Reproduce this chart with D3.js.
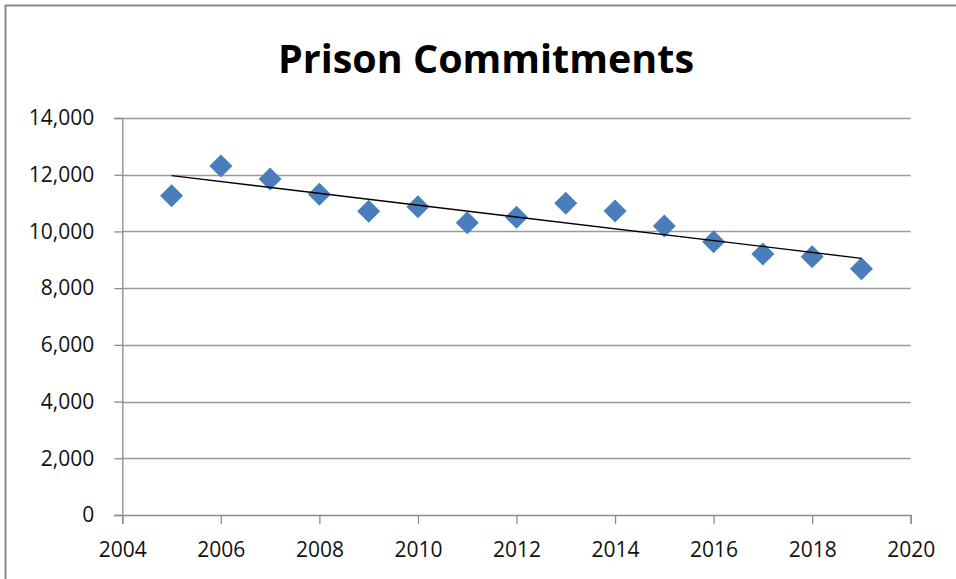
<!DOCTYPE html>
<html>
<head>
<meta charset="utf-8">
<script src="https://cdn.jsdelivr.net/npm/d3@7/dist/d3.min.js"></script>
<style>
  html, body { margin: 0; padding: 0; background: #fff; }
  svg { display: block; }
</style>
</head>
<body>
<svg id="chart" width="956" height="579"></svg>
<script>
// Annual prison commitments
const years = [2005, 2006, 2007, 2008, 2009, 2010, 2011, 2012, 2013, 2014, 2015, 2016, 2017, 2018, 2019];
const commitments = [11260, 12310, 11850, 11310, 10710, 10870, 10310, 10500, 10990, 10720, 10190, 9640, 9200, 9110, 8680];
const xTicks = [2004, 2006, 2008, 2010, 2012, 2014, 2016, 2018, 2020];
const yTicks = [0, 2000, 4000, 6000, 8000, 10000, 12000, 14000];
const title = "Prison Commitments";

const svg = d3.select("#chart");
const W = 956, H = 579;

const x = d3.scaleLinear().domain([2004, 2020]).range([122.3, 910.7]);
const y = d3.scaleLinear().domain([0, 14000]).range([515, 118]);

const axisColor = "#8c8c8c";
const labelFont = "'Open Sans', 'Noto Sans', sans-serif";

// chart frame (top and left edges)
svg.append("path")
  .attr("d", `M5.5,${H} V5.5 H${W}`)
  .attr("fill", "none")
  .attr("stroke", "#8a8a8a")
  .attr("stroke-width", 2);

// title
svg.append("text")
  .attr("x", 486).attr("y", 73)
  .attr("text-anchor", "middle")
  .attr("font-family", labelFont)
  .attr("font-weight", 700)
  .attr("font-size", 40)
  .attr("textLength", 416)
  .attr("lengthAdjust", "spacingAndGlyphs")
  .attr("fill", "#000")
  .text(title);

// horizontal gridlines
svg.append("g")
  .selectAll("line")
  .data(yTicks.filter(d => d > 0))
  .join("line")
  .attr("x1", x(2004)).attr("x2", x(2020))
  .attr("y1", d => Math.round(y(d)) + 0.5).attr("y2", d => Math.round(y(d)) + 0.5)
  .attr("stroke", "#9a9a9a")
  .attr("stroke-width", 1.3);

// y axis
const yAxis = svg.append("g")
  .attr("transform", `translate(${x(2004)},0)`)
  .call(d3.axisLeft(y).tickValues(yTicks).tickFormat(d3.format(",")).tickSize(8).tickPadding(20));
yAxis.select(".domain").attr("stroke", axisColor).attr("stroke-width", 1.3);
yAxis.selectAll(".tick line").attr("stroke", axisColor).attr("stroke-width", 1.3);
yAxis.selectAll(".tick text")
  .attr("font-family", labelFont)
  .attr("font-size", 21)
  .attr("fill", "#111");

// x axis
const xAxis = svg.append("g")
  .attr("transform", `translate(0,${y(0)})`)
  .call(d3.axisBottom(x).tickValues(xTicks).tickFormat(d3.format("d")).tickSize(9).tickPadding(18));
xAxis.select(".domain").attr("stroke", axisColor).attr("stroke-width", 1.3);
xAxis.selectAll(".tick line").attr("stroke", axisColor).attr("stroke-width", 1.3);
xAxis.selectAll(".tick text")
  .attr("font-family", labelFont)
  .attr("font-size", 21)
  .attr("fill", "#111");

// least-squares trend line through the series
const n = years.length;
const mx = d3.mean(years), my = d3.mean(commitments);
let sxy = 0, sxx = 0;
years.forEach((yr, i) => { sxy += (yr - mx) * (commitments[i] - my); sxx += (yr - mx) * (yr - mx); });
const slope = sxy / sxx;
const intercept = my - slope * mx;
const trend = [years[0], years[n - 1]].map(yr => [yr, intercept + slope * yr]);

// markers
const r = 11.5;
svg.append("g")
  .selectAll("path")
  .data(years.map((yr, i) => [yr, commitments[i]]))
  .join("path")
  .attr("d", d => {
    const cx = x(d[0]), cy = y(d[1]);
    return `M${cx},${cy - r} L${cx + r},${cy} L${cx},${cy + r} L${cx - r},${cy} Z`;
  })
  .attr("fill", "#4a7ebb");

svg.append("path")
  .datum(trend)
  .attr("d", d3.line().x(d => x(d[0])).y(d => y(d[1])))
  .attr("fill", "none")
  .attr("stroke", "#000")
  .attr("stroke-width", 1.4);
</script>
</body>
</html>
